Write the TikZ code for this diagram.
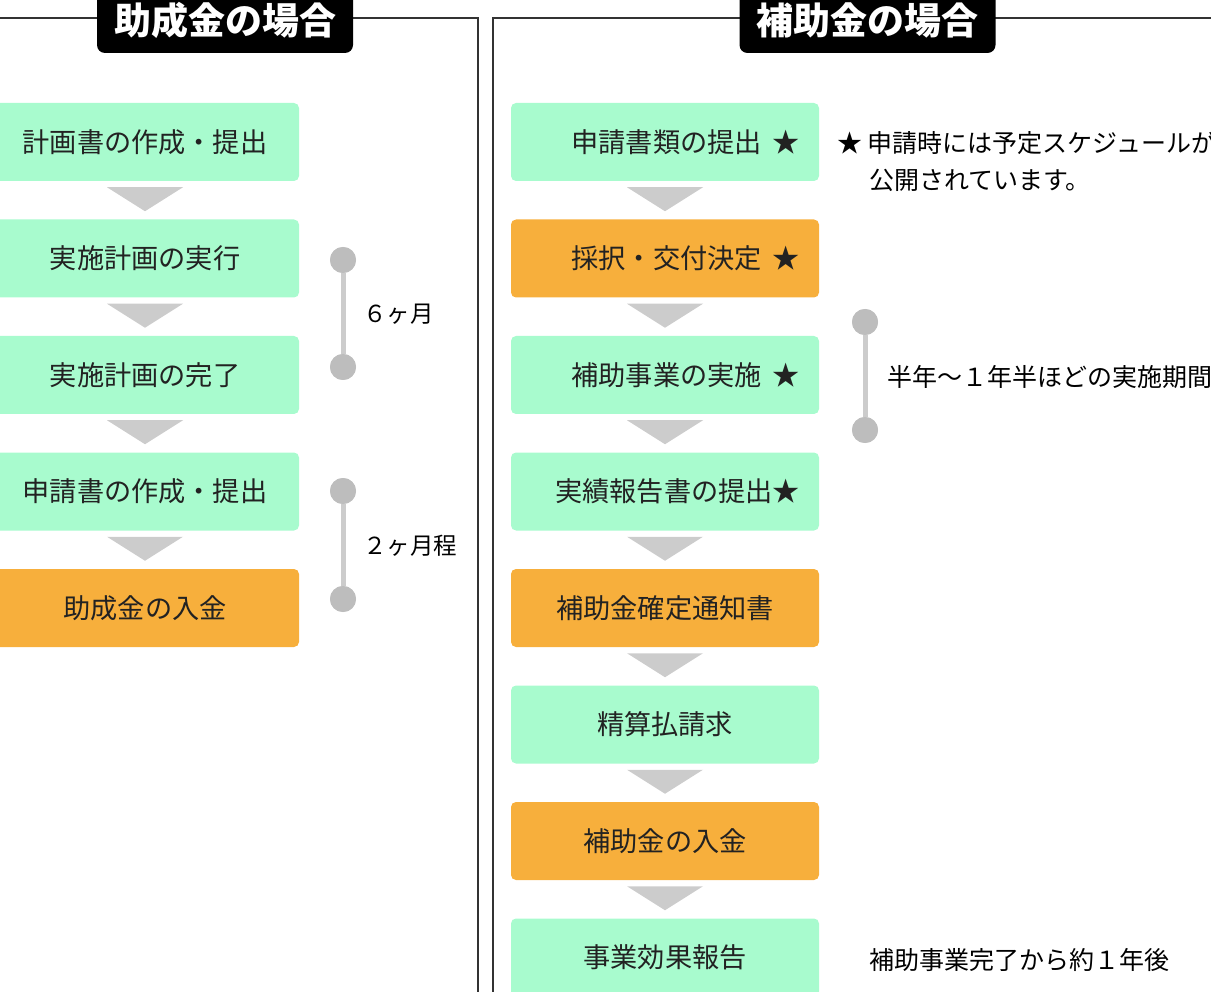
\documentclass[tikz,border=0pt]{standalone}
\usepackage{fontspec}
\setmainfont{Noto Sans CJK JP}
\usetikzlibrary{calc}
\definecolor{mint}{HTML}{A8FBCE}
\definecolor{amber}{HTML}{F7AF3C}
\definecolor{tri}{HTML}{CCCCCC}
\definecolor{dot}{HTML}{BDBDBD}
\definecolor{ink}{HTML}{222222}
\definecolor{frame}{HTML}{333333}
\tikzset{
  stepbox/.style={rounded corners=5pt, minimum width=308pt, minimum height=78pt,
    inner sep=0pt, text=ink, font=\fontsize{27.2}{31}\selectfont},
  greenbox/.style={stepbox, fill=mint},
  orangebox/.style={stepbox, fill=amber},
  starred/.style={text width=270pt, align=right},
  titlebox/.style={fill=black, text=white, rounded corners=8pt, minimum width=256pt,
    minimum height=66pt, inner sep=0pt, font=\fontsize{37}{42}\selectfont\bfseries},
  panel/.style={draw=frame, line width=1.2pt},
  flowtri/.style={fill=tri},
  dotnode/.style={circle, fill=dot, minimum size=26pt, inner sep=0pt},
  bar/.style={draw=tri, line width=5pt},
  sidelabel/.style={anchor=west, inner sep=0pt, text=black, font=\fontsize{23.5}{27}\selectfont},
  notelabel/.style={anchor=west, inner sep=0pt, text=black, font=\fontsize{25}{29}\selectfont}
}
\newcommand{\flowarrow}[2]{%
  \coordinate (m) at ($(#1.south)!0.5!(#2.north)$);
  \fill[flowtri] ($(m)+(-38,-13)$) -- ($(m)+(38,-13)$) -- ($(m)+(0,11)$) -- cycle;}
\begin{document}
\begin{tikzpicture}[x=1pt,y=-1pt]
\useasboundingbox (0,0) rectangle (1211,992);
% panels
\draw[panel] (-5,18) -- (478,18) -- (478,1000);
\draw[panel] (493,1000) -- (493,18) -- (1220,18);
% titles
\node[titlebox] (t1) at (225,20) {助成金の場合};
\node[titlebox] (t2) at (867.5,20) {補助金の場合};
% left flow
\node[greenbox]  (l1) at (145,142) {計画書の作成・提出};
\node[greenbox]  (l2) at (145,258.5) {実施計画の実行};
\node[greenbox]  (l3) at (145,375) {実施計画の完了};
\node[greenbox]  (l4) at (145,491.5) {申請書の作成・提出};
\node[orangebox] (l5) at (145,608) {助成金の入金};
\flowarrow{l1}{l2}\flowarrow{l2}{l3}\flowarrow{l3}{l4}\flowarrow{l4}{l5}
% right flow
\node[greenbox, starred]  (r1) at (665,142) {申請書類の提出\hspace{0.4em}★};
\node[orangebox, starred] (r2) at (665,258.5) {採択・交付決定\hspace{0.4em}★};
\node[greenbox, starred]  (r3) at (665,375) {補助事業の実施\hspace{0.4em}★};
\node[greenbox, starred]  (r4) at (665,491.5) {実績報告書の提出★};
\node[orangebox] (r5) at (665,608) {補助金確定通知書};
\node[greenbox]  (r6) at (665,724.5) {精算払請求};
\node[orangebox] (r7) at (665,841) {補助金の入金};
\node[greenbox]  (r8) at (665,957.5) {事業効果報告};
\flowarrow{r1}{r2}\flowarrow{r2}{r3}\flowarrow{r3}{r4}\flowarrow{r4}{r5}
\flowarrow{r5}{r6}\flowarrow{r6}{r7}\flowarrow{r7}{r8}
% timelines
\node[dotnode] (a1) at (343,260) {};
\node[dotnode] (a2) at (343,367) {};
\draw[bar] (a1) -- (a2);
\node[dotnode] (a1) at (343,260) {};
\node[dotnode] (a2) at (343,367) {};
\node[sidelabel] (s1) at (363,314) {６ヶ月};
\node[dotnode] (b1) at (343,491) {};
\node[dotnode] (b2) at (343,599) {};
\draw[bar] (b1) -- (b2);
\node[dotnode] (b1) at (343,491) {};
\node[dotnode] (b2) at (343,599) {};
\node[sidelabel] (s2) at (363,546) {２ヶ月程};
\node[dotnode] (c1) at (865,322) {};
\node[dotnode] (c2) at (865,430) {};
\draw[bar] (c1) -- (c2);
\node[dotnode] (c1) at (865,322) {};
\node[dotnode] (c2) at (865,430) {};
\node[notelabel] (s3) at (887,377) {半年～１年半ほどの実施期間};
% notes
\node[notelabel] (n1) at (837,143) {★ 申請時には予定スケジュールが};
\node[notelabel] (n2) at (869,180) {公開されています。};
\node[notelabel] (n3) at (869,960) {補助事業完了から約１年後};
\end{tikzpicture}
\end{document}
